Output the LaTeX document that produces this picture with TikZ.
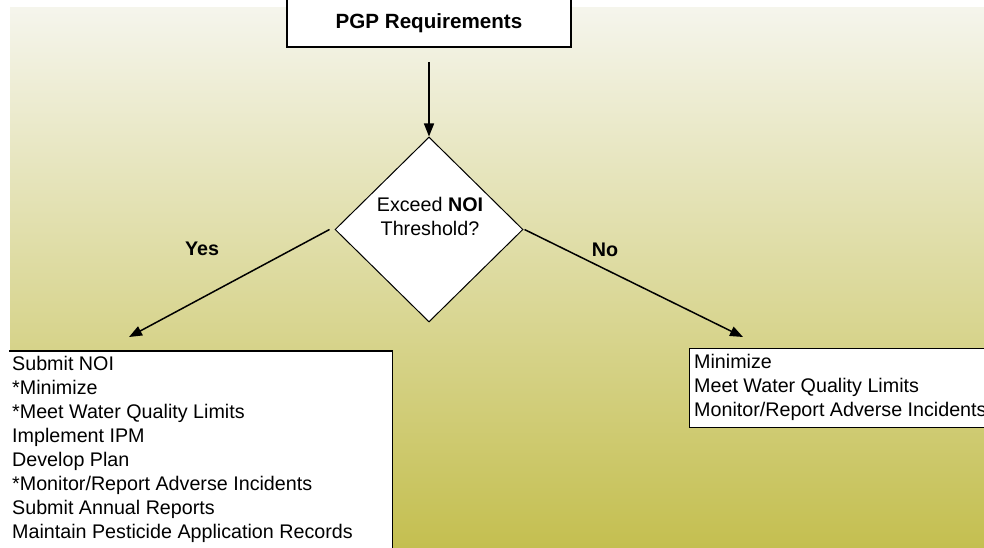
\documentclass[tikz,border=0pt]{standalone}
\usepackage{fontspec}
\setmainfont{Liberation Sans}
\usetikzlibrary{shapes.geometric,arrows.meta}
\definecolor{bgtop}{HTML}{F5F5EC}
\definecolor{bgbot}{HTML}{C4BF50}
\begin{document}
\begin{tikzpicture}[x=1pt,y=-1pt,
  txt/.style={font=\fontsize{19.7pt}{24pt}\selectfont, inner sep=0pt},
  whitebox/.style={fill=white, draw=black, line width=1.1pt, inner sep=0pt},
  conn/.style={line width=1.5pt, -{Triangle[length=13pt,width=10pt]}},
  lbl/.style={font=\fontsize{19.7pt}{24pt}\selectfont\bfseries, inner sep=0pt, anchor=base}]
\useasboundingbox (0,0) rectangle (984,548);
\shade[top color=bgtop, bottom color=bgbot] (10,8) rectangle (984,548);
% top box
\node[whitebox, minimum width=284pt, minimum height=52pt, text depth=0pt,
      font=\fontsize{20.6pt}{24pt}\selectfont\bfseries] (pgp) at (429,21) {PGP Requirements};
% decision
\node[diamond, draw=black, fill=white, line width=1pt, inner sep=0pt,
      minimum width=188pt, minimum height=185pt] (d) at (429,229.5) {};
\node[txt, align=center, anchor=north] (dtext) at (430,197) {Exceed \textbf{NOI}\\Threshold?};
% connectors
\coordinate (dstart) at (429,62);
\coordinate (ytip) at (129,337);
\coordinate (ntip) at (743,337);
\draw[conn] (dstart) -- (d.north);
\draw[conn] ([xshift=-5pt]d.west) -- (ytip);
\draw[conn] ([xshift=1pt]d.east) -- (ntip);
\node[lbl] (yes) at (202,255) {Yes};
\node[lbl] (no) at (605,256) {No};
% yes box
\node[fill=white, inner sep=0pt, minimum width=383pt, minimum height=220pt, anchor=north west] (yesbox) at (9,351) {};
\draw[line width=1.1pt] (yesbox.north west) -- (yesbox.north east) -- (yesbox.south east);
\node[txt, align=left, anchor=north west] (yeslist) at (12,356) {Submit NOI\\*Minimize\\*Meet Water Quality Limits\\Implement IPM\\Develop Plan\\*Monitor/Report Adverse Incidents\\Submit Annual Reports\\Maintain Pesticide Application Records};
% no box
\node[whitebox, anchor=north west, minimum width=320pt, minimum height=79pt] (nobox) at (689,348) {};
\node[txt, align=left, anchor=north west] (nolist) at (694,354) {Minimize\\Meet Water Quality Limits\\Monitor/Report Adverse Incidents};
\end{tikzpicture}
\end{document}
